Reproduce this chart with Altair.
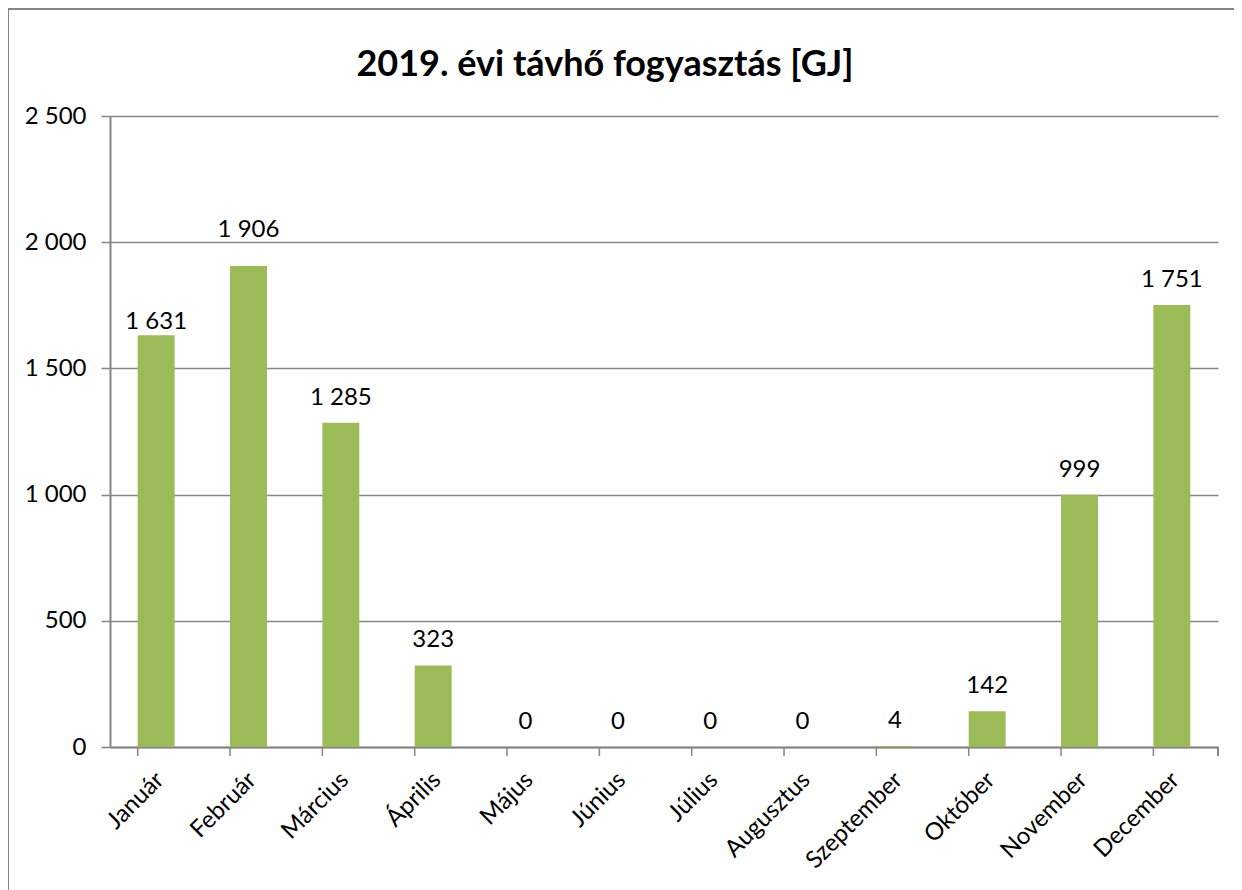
import altair as alt
import pandas as pd

months = ["Január", "Február", "Március", "Április", "Május", "Június",
          "Július", "Augusztus", "Szeptember", "Október", "November", "December"]
values = [1631, 1906, 1285, 323, 0, 0, 0, 0, 4, 142, 999, 1751]
y_ticks = [0, 500, 1000, 1500, 2000, 2500]
title_text = "2019. évi távhő fogyasztás [GJ]"

df = pd.DataFrame({"month": months, "value": values})

FONT = "Lato"
GREY = "#868686"
W, H = 1108, 631

xscale = alt.Scale(domain=months, paddingInner=0.6, paddingOuter=0.3)
yscale = alt.Scale(domain=[0, 2500], nice=False)

base = alt.Chart(df)

bars = base.mark_bar(color="#9BBB59").encode(
    x=alt.X("month:N", sort=months, scale=xscale,
            axis=alt.Axis(title=None, labelAngle=-45, labelFontSize=24, labelFont=FONT,
                          labelColor="#000000", ticks=False, domain=True, domainColor=GREY,
                          domainWidth=2, labelPadding=29, labelOffset=4, labelAlign="right",
                          labelBaseline="middle")),
    y=alt.Y("value:Q", scale=yscale,
            axis=alt.Axis(title=None, values=y_ticks, grid=True, gridColor=GREY, gridWidth=1.5,
                          labelFontSize=24, labelFont=FONT, labelColor="#000000",
                          tickColor=GREY, tickSize=9, tickWidth=1.5, domainColor=GREY,
                          domainWidth=2, labelPadding=15,
                          labelExpr="replace(format(datum.value, ','), ',', ' ')")),
)

xticks = base.mark_rule(color=GREY, strokeWidth=1.5).encode(
    x=alt.X("month:N", sort=months, scale=xscale, bandPosition=0),
    y=alt.value(H), y2=alt.value(H + 9),
)

end_tick = base.mark_rule(color=GREY, strokeWidth=1.5).encode(
    x=alt.value(W), y=alt.value(H), y2=alt.value(H + 9)
)


def value_labels(dy, filt):
    return base.mark_text(baseline="bottom", dy=dy, fontSize=24, font=FONT,
                          color="#000000").encode(
        x=alt.X("month:N", sort=months, scale=xscale),
        y=alt.Y("value:Q", scale=yscale),
        text=alt.Text("label:N"),
    ).transform_filter(filt).transform_calculate(
        label="replace(format(datum.value, ','), ',', ' ')")


labels_main = value_labels(-13, "datum.month != 'Január' && datum.month != 'Február'")
labels_jan = value_labels(-1, "datum.month == 'Január'")
labels_feb = value_labels(-24, "datum.month == 'Február'")

title = alt.Chart(pd.DataFrame({"t": [title_text]})).mark_text(
    font=FONT, fontSize=36, fontWeight="bold", color="#000000", align="center",
    baseline="alphabetic"
).encode(text="t:N", x=alt.value(495), y=alt.value(-40))

frame = base.mark_rect(fill=None, stroke=GREY, strokeWidth=2).encode(
    x=alt.value(-102), x2=alt.value(1130), y=alt.value(-107), y2=alt.value(800)
)

chart = alt.layer(frame, bars, xticks, end_tick, labels_main, labels_jan, labels_feb,
                  title).properties(
    width=W, height=H,
    autosize=alt.AutoSizeParams(type="none"),
    padding={"left": 102, "top": 108, "right": 16, "bottom": 150},
).configure(background="white").configure_view(stroke=None)

chart.save("out.html", embed_options={"renderer": "svg", "actions": False})
